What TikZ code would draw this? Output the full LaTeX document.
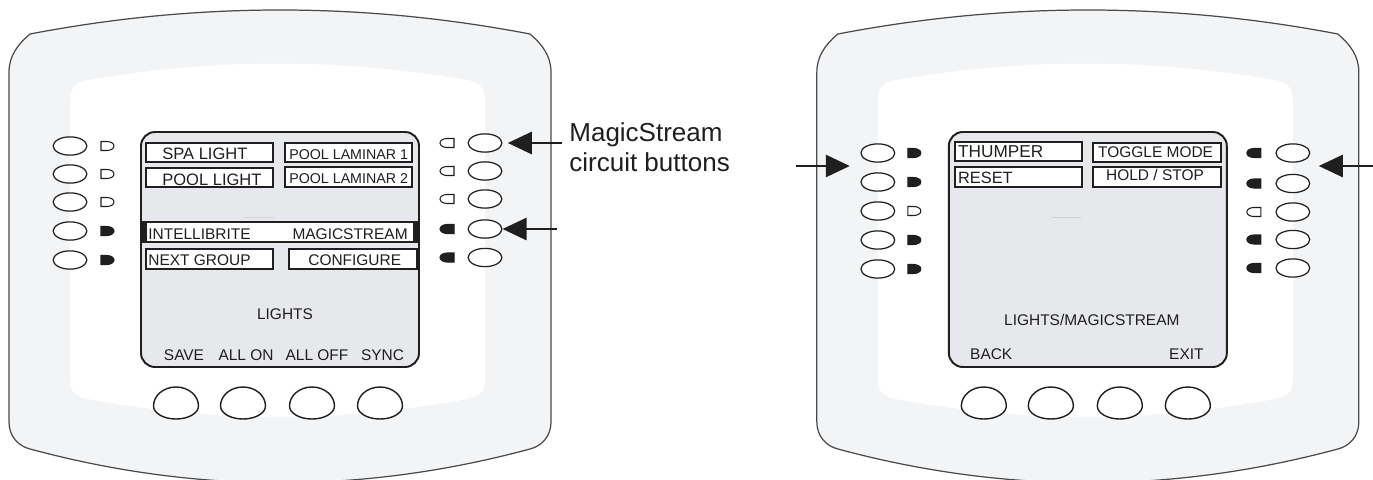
\documentclass[tikz,border=0pt]{standalone}
\usepackage{fontspec}
\setmainfont{Liberation Sans}
\usetikzlibrary{shapes.geometric,arrows.meta}

\definecolor{bezel}{HTML}{F3F4F6}
\definecolor{lcd}{HTML}{E7E8EB}
\definecolor{shell}{HTML}{4A4A4A}
\definecolor{ink}{HTML}{1F1F1F}

\tikzset{
  sidekey/.style={ellipse, draw=ink, line width=0.7pt, fill=white, minimum width=19.2pt, minimum height=10.4pt, inner sep=0pt},
  led/.style={draw=ink, line width=0.6pt},
  softkey/.style={draw=ink, line width=0.8pt, fill=white},
  tag/.style={draw=ink, line width=0.8pt, fill=white},
  lcdtxt/.style={font=\fontsize{8.8}{10}\selectfont, text=ink, inner sep=0pt},
  callout/.style={font=\fontsize{14.8}{17.1}\selectfont, text=ink, align=left, inner xsep=4pt, inner ysep=0pt},
  arr/.style={-{Triangle[length=13.7pt,width=12.5pt]}, line width=1.7pt, draw=ink}
}

% housing, inner panel, screen and soft keys of one control panel
\newcommand{\housing}{%
  \draw[shell, line width=0.7pt, fill=bezel]
    (30,34) .. controls (197,2) and (363,2) .. (530,34)
    .. controls (542,44) and (551,56) .. (551,72) -- (551,422)
    .. controls (551,436) and (542,446) .. (530,449)
    .. controls (363,494) and (197,494) .. (30,449)
    .. controls (18,446) and (9,436) .. (9,422) -- (9,72)
    .. controls (9,56) and (18,44) .. (30,34) -- cycle;
  \fill[white]
    (70,100) .. controls (70,88) and (76,82) .. (88,80)
    .. controls (217,58) and (338,58) .. (467,80)
    .. controls (479,82) and (485,88) .. (485,100) -- (485,380)
    .. controls (485,392) and (479,397) .. (467,399)
    .. controls (338,423) and (217,423) .. (88,399)
    .. controls (76,397) and (70,392) .. (70,380) -- cycle;
  \draw[ink, line width=1.1pt, fill=lcd, rounded corners=8pt] (141,132) rectangle (419,367);
  \draw[black!18, line width=0.5pt] (244,217) -- (273,217);
  \foreach \x in {176,243,312,380}
    \draw[softkey] (\x-22.5,406) arc[start angle=180, end angle=360, x radius=22.5, y radius=19]
      arc[start angle=0, end angle=180, x radius=22.5, y radius=13] -- cycle;
}

\begin{document}
\begin{tikzpicture}[x=0.02cm, y=-0.02cm]
\useasboundingbox (0,0) rectangle (1373,480);

%% left panel: LIGHTS
\housing
\foreach \y [count=\i] in {146,174,202,231,260}
  \node[sidekey] (L-l\i) at (70,\y) {};
\foreach \y [count=\i] in {143,171,199,229,257.5}
  \node[sidekey] (L-r\i) at (485,\y) {};
\foreach \y/\lit in {146/white,174/white,202/white,231/ink,260/ink}
  \draw[led, fill=\lit] (101,\y-4.5) -- (107,\y-4.5) arc[start angle=-90, end angle=90, x radius=7, y radius=4.5] -- (101,\y+4.5) -- cycle;
\foreach \y/\lit in {143/white,171/white,199/white,229/ink,257.5/ink}
  \draw[led, fill=\lit] (454,\y-4.5) -- (447,\y-4.5) arc[start angle=-90, end angle=-270, x radius=7, y radius=4.5] -- (454,\y+4.5) -- cycle;

\draw[tag] (146,143) rectangle (273,162);
\draw[tag] (285,143) rectangle (412,162);
\draw[tag] (146,168) rectangle (273,187);
\draw[tag] (285,167) rectangle (412,187);
\draw[tag] (143,222) rectangle (417,242);
\draw[ink, line width=2.3pt] (145,222) -- (145,242) (415,222) -- (415,242);
\draw[tag] (146,249) rectangle (273,269);
\draw[tag] (289,249) rectangle (417,269);

\node[lcdtxt, font=\fontsize{9.4}{10}\selectfont, anchor=base west] (L-spa) at (162,159.3) {SPA LIGHT};
\node[lcdtxt, font=\fontsize{9.4}{10}\selectfont, anchor=base west] (L-pool) at (162,185) {POOL LIGHT};
\node[lcdtxt, font=\fontsize{8.1}{10}\selectfont, anchor=base west] (L-lam1) at (289,159.3) {POOL LAMINAR 1};
\node[lcdtxt, font=\fontsize{8.1}{10}\selectfont, anchor=base west] (L-lam2) at (289,183.3) {POOL LAMINAR 2};
\node[lcdtxt, anchor=base west] (L-ib) at (148,239) {INTELLIBRITE};
\node[lcdtxt, anchor=base east] (L-ms) at (408,239) {MAGICSTREAM};
\node[lcdtxt, anchor=base west] (L-next) at (148,265.7) {NEXT GROUP};
\node[lcdtxt, anchor=base west] (L-cfg) at (308,265.7) {CONFIGURE};
\node[lcdtxt, anchor=base] (L-title) at (285,319.3) {LIGHTS};
\node[lcdtxt, anchor=base] (L-save) at (184,360) {SAVE};
\node[lcdtxt, anchor=base] (L-on) at (246,360) {ALL ON};
\node[lcdtxt, anchor=base] (L-off) at (317,360) {ALL OFF};
\node[lcdtxt, anchor=base] (L-sync) at (382.5,360) {SYNC};

\node[callout, anchor=base west] (ms-lbl) at (562,171.7) {MagicStream\\circuit buttons};
\coordinate (L-tb) at (557,229);
\draw[arr, shorten >=3pt] (ms-lbl.west |- L-r1) -- (L-r1.east);
\draw[arr] (L-tb) -- (L-r4.east);

%% right panel: LIGHTS/MAGICSTREAM
\begin{scope}[xshift=16.16cm]
\housing
\foreach \y [count=\i] in {153,182,211,240,269}
  \node[sidekey] (R-l\i) at (70,\y) {};
\foreach \y [count=\i] in {153,183.5,212,239.5,268}
  \node[sidekey] (R-r\i) at (485,\y) {};
\foreach \y/\lit in {153/ink,182/ink,211/white,240/ink,269/ink}
  \draw[led, fill=\lit] (100,\y-4.5) -- (106,\y-4.5) arc[start angle=-90, end angle=90, x radius=7, y radius=4.5] -- (100,\y+4.5) -- cycle;
\foreach \y/\lit in {153/ink,183.5/ink,212/white,239.5/ink,268/ink}
  \draw[led, fill=\lit] (453,\y-4.5) -- (446,\y-4.5) arc[start angle=-90, end angle=-270, x radius=7, y radius=4.5] -- (453,\y+4.5) -- cycle;

\draw[tag] (147,142) rectangle (274,161);
\draw[tag] (285,143) rectangle (413,162);
\draw[tag] (147,167) rectangle (274,187);
\draw[tag] (285,167) rectangle (413,187);

\node[lcdtxt, font=\fontsize{9.8}{10}\selectfont, anchor=base west] (R-thump) at (150,157.3) {THUMPER};
\node[lcdtxt, anchor=base west] (R-toggle) at (290,157.3) {TOGGLE MODE};
\node[lcdtxt, font=\fontsize{9.3}{10}\selectfont, anchor=base west] (R-reset) at (150,183.3) {RESET};
\node[lcdtxt, anchor=base west] (R-hold) at (298,180) {HOLD / STOP};
\node[lcdtxt, anchor=base west] (R-title) at (196,325) {LIGHTS/MAGICSTREAM};
\node[lcdtxt, anchor=base west] (R-back) at (162,359.5) {BACK};
\node[lcdtxt, anchor=base west] (R-exit) at (361,359) {EXIT};

\coordinate (R-ta) at (-12,166);
\coordinate (R-tb) at (565,166);
\draw[arr, shorten >=6pt] (R-ta) -- (R-ta -| R-l1.west);
\draw[arr, shorten >=4.8pt] (R-tb) -- (R-tb -| R-r1.east);
\end{scope}
\end{tikzpicture}
\end{document}
